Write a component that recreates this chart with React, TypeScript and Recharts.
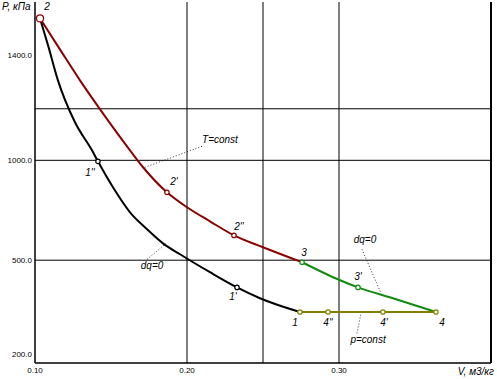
import { ComposedChart, Line, Scatter, XAxis, YAxis, ReferenceLine } from "recharts"

// изотерма 2-3 (T=const)
const isoT = [
  { v: 0.1033, p: 2677 },
  { v: 0.1164, p: 2160 },
  { v: 0.1296, p: 1742 },
  { v: 0.1461, p: 1357 },
  { v: 0.1625, p: 1072 },
  { v: 0.1711, p: 953 },
  { v: 0.1868, p: 801 },
  { v: 0.2, p: 722 },
  { v: 0.2151, p: 655 },
  { v: 0.2309, p: 594 },
  { v: 0.25, p: 547 },
  { v: 0.2757, p: 493 },
]

// адиабата 1-2 (dq=0)
const adiabat12 = [
  { v: 0.1033, p: 2677 },
  { v: 0.1086, p: 2220 },
  { v: 0.1151, p: 1742 },
  { v: 0.1263, p: 1302 },
  { v: 0.1375, p: 1072 },
  { v: 0.1414, p: 993 },
  { v: 0.1513, p: 829 },
  { v: 0.1625, p: 697 },
  { v: 0.1737, p: 620 },
  { v: 0.1842, p: 562 },
  { v: 0.1954, p: 521 },
  { v: 0.2151, p: 460 },
  { v: 0.2329, p: 414 },
  { v: 0.248, p: 384 },
  { v: 0.2743, p: 349 },
]

// адиабата 3-4 (dq=0)
const adiabat34 = [
  { v: 0.2757, p: 493 },
  { v: 0.3007, p: 435 },
  { v: 0.3125, p: 414 },
  { v: 0.3355, p: 384 },
  { v: 0.3638, p: 349 },
]

// изобара 1-4 (p=const)
const isobar = [
  { v: 0.2743, p: 349 },
  { v: 0.3638, p: 349 },
]

const redPoints = [
  { name: "2", v: 0.1033, p: 2677 },
  { name: "2'", v: 0.1868, p: 801 },
  { name: "2''", v: 0.2309, p: 594 },
]
const blackPoints = [
  { name: "1''", v: 0.1414, p: 993 },
  { name: "1'", v: 0.2329, p: 414 },
]
const greenPoints = [
  { name: "3", v: 0.2757, p: 493 },
  { name: "3'", v: 0.3125, p: 414 },
]
const olivePoints = [
  { name: "1", v: 0.2743, p: 349 },
  { name: "4''", v: 0.2928, p: 349 },
  { name: "4'", v: 0.3289, p: 349 },
  { name: "4", v: 0.3638, p: 349 },
]

const notes = [
  { name: "T=const", v: 0.2217, p: 1149 },
  { name: "dq=0", v: 0.177, p: 479 },
  { name: "dq=0 ", v: 0.3171, p: 574 },
  { name: "p=const", v: 0.3191, p: 287 },
]

const leaders = [
  [{ x: 0.2099, y: 1102 }, { x: 0.1724, y: 953 }],
  [{ x: 0.1737, y: 503 }, { x: 0.1862, y: 562 }],
  [{ x: 0.3151, y: 539 }, { x: 0.3276, y: 398 }],
  [{ x: 0.3118, y: 301 }, { x: 0.3145, y: 346 }],
]

const xTicks = [0.1, 0.2, 0.3]
const yTickValues = [260, 500, 1000, 2070]
const yTickLabels = ["200.0", "500.0", "1000.0", "1400.0"]
const gridV = [0.2, 0.25, 0.3]
const gridP = [500, 1000, 1430]

// смещения подписей точек, px
const labelOffset: Record<string, [number, number]> = {
  "2": [7, -11],
  "1''": [-8, 12],
  "2'": [7, -10],
  "2''": [5, -8],
  "3": [2, -9],
  "3'": [0, -10],
  "1'": [-4, 10],
  "1": [-5, 11],
  "4''": [0, 11],
  "4'": [1, 11],
  "4": [6, 11],
}

const font = "'Liberation Sans', Arial, sans-serif"

const makeMarker = (color: string) => (props: any) => {
  const { cx, cy, payload } = props
  const [dx, dy] = labelOffset[payload.name] || [0, 0]
  const r = payload.name === "2" ? 3.5 : 2.2
  return (
    <g>
      <circle cx={cx} cy={cy} r={r} fill="#fff" stroke={color} strokeWidth={1.2} />
      <text
        x={cx + dx}
        y={cy + dy}
        textAnchor="middle"
        dominantBaseline="middle"
        fontSize={10}
        fontStyle="italic"
        fontFamily={font}
        fill="#000"
      >
        {payload.name}
      </text>
    </g>
  )
}

const noteShape = (props: any) => (
  <text
    x={props.cx}
    y={props.cy}
    textAnchor="middle"
    dominantBaseline="middle"
    fontSize={10}
    fontStyle="italic"
    fontFamily={font}
    fill="#000"
  >
    {props.payload.name.trim()}
  </text>
)

export default function App() {
  return (
    <div style={{ position: "absolute", left: 0, top: 0, width: 497, height: 379, background: "#fff" }}>
      <ComposedChart width={497} height={379} margin={{ top: 2, right: 6, left: 0, bottom: 0 }}>
        <XAxis
          type="number"
          dataKey="v"
          domain={[0.1, 0.4]}
          ticks={xTicks}
          tickFormatter={(t: number) => t.toFixed(2)}
          tickLine={false}
          tickSize={0}
          tickMargin={4}
          height={16}
          axisLine={{ stroke: "#000", strokeWidth: 1.5 }}
          tick={{ fontSize: 8, fill: "#000", fontFamily: font }}
        />
        <YAxis
          type="number"
          dataKey="p"
          scale="log"
          domain={[245, 3000]}
          ticks={yTickValues}
          tickFormatter={(t: number) => yTickLabels[yTickValues.indexOf(t)]}
          tickLine={false}
          tickSize={0}
          tickMargin={3}
          width={35}
          axisLine={{ stroke: "#000", strokeWidth: 1.5 }}
          tick={{ fontSize: 8, fill: "#000", fontFamily: font }}
        />
        {gridV.map((g) => (
          <ReferenceLine key={"v" + g} x={g} stroke="#000" strokeWidth={1} />
        ))}
        {gridP.map((g) => (
          <ReferenceLine key={"p" + g} y={g} stroke="#000" strokeWidth={1} />
        ))}
        <ReferenceLine x={0.4} stroke="#000" strokeWidth={2} />
        {leaders.map((s, i) => (
          <ReferenceLine key={"l" + i} segment={s} stroke="#000" strokeWidth={0.8} strokeDasharray="1 2" />
        ))}
        <Line data={isoT} dataKey="p" type="monotone" stroke="#8b0000" strokeWidth={2} dot={false} isAnimationActive={false} />
        <Line data={adiabat12} dataKey="p" type="monotone" stroke="#000" strokeWidth={2} dot={false} isAnimationActive={false} />
        <Line data={adiabat34} dataKey="p" type="monotone" stroke="#118c11" strokeWidth={2} dot={false} isAnimationActive={false} />
        <Line data={isobar} dataKey="p" type="linear" stroke="#808000" strokeWidth={2} dot={false} isAnimationActive={false} />
        <Scatter data={redPoints} dataKey="p" shape={makeMarker("#8b0000")} isAnimationActive={false} />
        <Scatter data={blackPoints} dataKey="p" shape={makeMarker("#000")} isAnimationActive={false} />
        <Scatter data={greenPoints} dataKey="p" shape={makeMarker("#118c11")} isAnimationActive={false} />
        <Scatter data={olivePoints} dataKey="p" shape={makeMarker("#808000")} isAnimationActive={false} />
        <Scatter data={notes} dataKey="p" shape={noteShape} isAnimationActive={false} />
      </ComposedChart>
      <div style={{ position: "absolute", left: 2, top: 1, fontSize: 10, fontFamily: font, fontStyle: "italic" }}>
        P, кПа
      </div>
      <div style={{ position: "absolute", right: 3, top: 366, fontSize: 10, fontFamily: font, fontStyle: "italic" }}>
        V, м3/кг
      </div>
    </div>
  )
}
